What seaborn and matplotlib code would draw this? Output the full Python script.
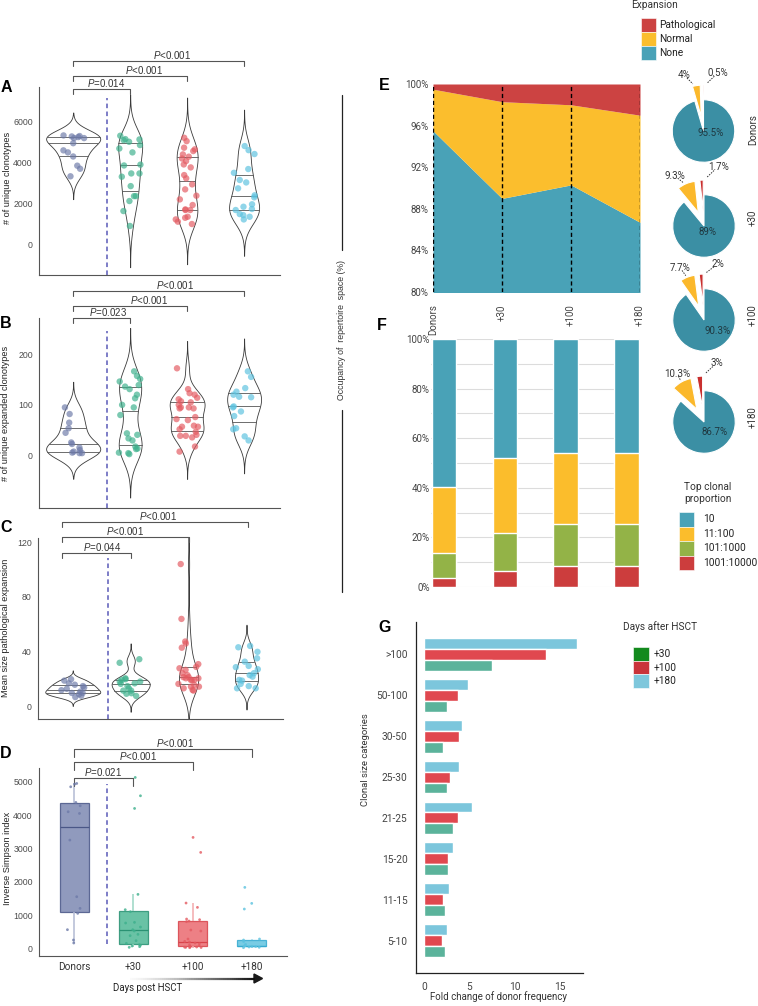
import numpy as np
import pandas as pd
import matplotlib.pyplot as plt
import seaborn as sns
from matplotlib.patches import Rectangle, Polygon
from matplotlib.lines import Line2D
from matplotlib.collections import LineCollection
from matplotlib.transforms import blended_transform_factory

sns.set_style("white")
plt.rcParams['font.family'] = ['Liberation Sans', 'DejaVu Sans']
plt.rcParams['mathtext.fontset'] = 'custom'
plt.rcParams['mathtext.it'] = 'Liberation Sans:italic'
plt.rcParams['mathtext.rm'] = 'Liberation Sans'

W, H = 758, 1006

groups = ['Donors', '+30', '+100', '+180']

# A: number of unique clonotypes
uniq_donors = [5330, 5300, 5280, 5250, 5200, 5200, 4950, 4600, 4500, 4300, 3850, 3700, 3330]
uniq_d30 = [5315, 5150, 5135, 5100, 5020, 4860, 4690, 4500, 3900, 3860, 3470, 3470,
            3310, 2850, 2360, 2360, 2120, 1630, 900]
uniq_d100 = [5215, 5050, 4730, 4650, 4565, 4400, 4290, 4200, 4075, 3910, 3765, 3390, 3230,
             2935, 2690, 2380, 2200, 1925, 1710, 1680, 1680, 1350, 1300, 1220, 1110, 995]
uniq_d180 = [4810, 4610, 4420, 3685, 3500, 3150, 3030, 2740, 2400, 2300, 1960, 1840,
             1730, 1680, 1480, 1430, 1350, 1220]

# B: number of unique expanded clonotypes
exp_donors = [95, 82, 65, 54, 45, 26, 23, 16, 11, 8, 6, 5, 5]
exp_d30 = [166, 157, 151, 146, 139, 136, 131, 120, 113, 100, 95, 80, 44, 41, 34, 30,
           18, 14, 13, 6, 5, 3]
exp_d100 = [172, 131, 123, 120, 114, 111, 107, 105, 100, 95, 95, 93, 93, 76, 72, 70,
            59, 57, 57, 52, 47, 41, 39, 39, 36, 18, 8]
exp_d180 = [166, 155, 133, 126, 120, 116, 115, 97, 95, 87, 78, 54, 52, 38, 30]

# C: mean size of pathological expansion
path_donors = [20, 19, 17, 16, 15, 14, 13, 12, 11, 10, 10, 9, 8, 7]
path_d30 = [34.6, 32, 20.7, 20, 19.5, 18.3, 18.3, 17, 16.6, 15, 13.4, 11.7, 11.7, 9.8, 9.4, 7.8]
path_d100 = [104, 64, 47.5, 46, 43, 31, 29, 28, 26.8, 24.4, 23, 21.5, 21.5, 20.7, 20.7,
             19.5, 19.5, 19.5, 16.6, 15.8, 14.6, 14.6, 13.4, 12.2, 11.7]
path_d180 = [44.3, 43.3, 40, 35.3, 32.8, 29.7, 28.8, 27.3, 24.4, 23, 21.9, 19.5, 19,
             16.6, 15, 13.4, 13.4]

# D: inverse Simpson index
simp_donors = [160, 250, 560, 1050, 1200, 1550, 3250, 4050, 4100, 4280, 4380, 4850, 4930, 4950]
simp_d30 = [30, 50, 70, 90, 110, 150, 230, 380, 420, 520, 560, 640, 760, 780, 1100, 1160,
            1620, 4200, 4580, 5130]
simp_d100 = [20, 25, 30, 35, 40, 45, 60, 80, 100, 140, 160, 190, 210, 280, 520, 550, 800,
             820, 860, 880, 1230, 1360, 2880, 3330]
simp_d180 = [20, 30, 40, 55, 60, 70, 75, 85, 120, 200, 250, 280, 1180, 1350, 1830]

# E: occupancy of repertoire space (%)
occ_none = [95.5, 89.0, 90.3, 86.7]
occ_normal = [4.0, 9.3, 7.7, 10.3]
occ_path = [0.5, 1.7, 2.0, 3.0]
expansion_labels = ['Pathological', 'Normal', 'None']

# F: top clonal proportion (%)
clonal_labels = ['10', '11:100', '101:1000', '1001:10000']
prop_10 = [59.5, 48.0, 45.8, 45.8]
prop_11_100 = [26.6, 30.1, 28.8, 28.8]
prop_101_1000 = [10.4, 15.4, 16.8, 16.8]
prop_1001_10000 = [3.5, 6.5, 8.6, 8.6]

# G: fold change of donor frequency
size_cats = ['>100', '50-100', '30-50', '25-30', '21-25', '15-20', '11-15', '5-10']
days_after = ['+30', '+100', '+180']
fold_d30 = [7.5, 2.5, 2.1, 2.5, 3.2, 2.7, 2.3, 2.3]
fold_d100 = [13.5, 3.7, 3.9, 2.9, 3.8, 2.7, 2.1, 2.0]
fold_d180 = [16.9, 4.9, 4.2, 3.85, 5.3, 3.15, 2.75, 2.5]

dot_colors = ['#6d7aa8', '#3db08c', '#e45a61', '#5bc2df']
box_fill = ['#7d89b2', '#4fb896', '#ea6a70', '#62c3e0']
box_edge = ['#4a5787', '#2a9273', '#d8434b', '#35aad0']
box_whisk = ['#b3bad3', '#9ad6c3', '#f2a9ac', '#a6dcee']
exp_colors = {'Pathological': '#cc4342', 'Normal': '#fbbe2d', 'None': '#49a2b7'}
pie_colors = ['#3b8fa4', '#fbb82b', '#c9302f']
clonal_colors = ['#49a2b7', '#fbbd2c', '#93b347', '#cc3d3d']
bar_colors = {'+30': '#5bb39b', '+100': '#e0484f', '+180': '#7cc6dc'}
legend_g_colors = ['#138a1e', '#c9343a', '#7ec7dc']
grey_txt = '#4d4d4d'
roboto = ['Roboto', 'DejaVu Sans']

fig = plt.figure(figsize=(W / 100, H / 100), dpi=100)


def fx(x):
    return x / W


def fy(y):
    return 1 - y / H


def add_ax(l, t, r, b):
    return fig.add_axes([l / W, 1 - b / H, (r - l) / W, (b - t) / H])


def long_frame(series):
    return pd.DataFrame({'group': np.repeat(groups, [len(s) for s in series]),
                         'value': np.concatenate(series).astype(float)})


def bracket(ax, x0, x1, ypx, label, tx, drop=5):
    tr = blended_transform_factory(ax.transData, fig.transFigure)
    ax.plot([x0, x0, x1, x1], [fy(ypx + drop), fy(ypx), fy(ypx), fy(ypx + drop)],
            transform=tr, color='#555555', lw=0.8, clip_on=False)
    ax.text(tx, fy(ypx - 6), label, transform=tr, ha='center', va='center',
            fontsize=7, color='#333333', clip_on=False)


def style_left(ax, yticks, ylim, xlim):
    ax.set_ylim(ylim)
    ax.set_xlim(xlim)
    ax.set_yticks(yticks)
    ax.set_yticklabels([str(t) for t in yticks], fontsize=6.3, color=grey_txt)
    ax.set_xticks(range(4))
    ax.set_xticklabels([])
    ax.set_xlabel('')
    ax.set_ylabel('')
    sns.despine(ax=ax)
    for s in ['left', 'bottom']:
        ax.spines[s].set_color('#555555')
        ax.spines[s].set_linewidth(0.8)
    ax.tick_params(axis='both', length=2.5, width=0.6, color='#888888', pad=2)


def violin_panel(ax, series, ylim, yticks, dash_top):
    df = long_frame(series)
    sns.violinplot(data=df, x='group', y='value', order=groups, color='white',
                   linecolor='#3a3a3a', linewidth=0.6, inner='quart', density_norm='area',
                   width=0.95, cut=3, bw_method='silverman', bw_adjust=0.85,
                   saturation=1, ax=ax)
    for ln in ax.lines:
        ln.set_linestyle('-')
        ln.set_linewidth(0.6)
        ln.set_color('#555555')
    sns.stripplot(data=df, x='group', y='value', order=groups, hue='group',
                  hue_order=groups, palette=dot_colors, size=4.6, alpha=0.68,
                  jitter=0.2, linewidth=0, legend=False, ax=ax)
    ax.vlines(0.6, ylim[0], dash_top, colors='#5a5ab8', linestyles=(0, (3, 2.2)),
              linewidth=1.1)
    style_left(ax, yticks, ylim, (-0.6, 3.63))


np.random.seed(7)

# ---- A
axA = add_ax(39, 87, 280, 275)
violin_panel(axA, [uniq_donors, uniq_d30, uniq_d100, uniq_d180], (-1500, 7700),
             [0, 2000, 4000, 6000], 7145)
bracket(axA, 0, 3, 61, r'$P$<0.001', 1.73)
bracket(axA, 0, 2, 76, r'$P$<0.001', 1.25)
bracket(axA, 0, 1, 89, r'$P$=0.014', 0.57)

# ---- B
axB = add_ax(39, 318, 280, 508)
violin_panel(axB, [exp_donors, exp_d30, exp_d100, exp_d180], (-103, 271),
             [0, 100, 200], 246)
bracket(axB, 0, 3, 291, r'$P$<0.001', 1.79)
bracket(axB, 0, 2, 305.7, r'$P$<0.001', 1.34)
bracket(axB, 0, 1, 317.7, r'$P$=0.023', 0.61)

# ---- C
axC = add_ax(38, 538, 283, 719)
violin_panel(axC, [path_donors, path_d30, path_d100, path_d180], (-9, 123),
             [0, 40, 80, 120], 108.5)
bracket(axC, -0.18, 3.02, 521.7, r'$P$<0.001', 1.47)
bracket(axC, -0.18, 2.0, 537, r'$P$<0.001', 0.91)
bracket(axC, -0.18, 1.0, 553, r'$P$=0.044', 0.5)

# ---- D
axD = add_ax(39, 768, 287, 956)
simp_series = [simp_donors, simp_d30, simp_d100, simp_d180]
for i, g in enumerate(groups):
    sub = pd.DataFrame({'group': g, 'value': np.array(simp_series[i], dtype=float)})
    sns.boxplot(data=sub, x='group', y='value', order=groups, color=box_fill[i],
                linecolor=box_edge[i], linewidth=0.9, width=0.5, showcaps=False,
                showfliers=False, saturation=1, boxprops=dict(alpha=0.85),
                whiskerprops=dict(color=box_whisk[i], linewidth=1.1), ax=axD)
dfD = long_frame(simp_series)
sns.stripplot(data=dfD, x='group', y='value', order=groups, hue='group', hue_order=groups,
              palette=dot_colors, size=2.0, alpha=0.8, jitter=0.15, linewidth=0,
              legend=False, ax=axD)
axD.vlines(0.56, 130, 4934, colors='#5a5ab8', linestyles=(0, (3, 2.2)), linewidth=1.1)
style_left(axD, [0, 1000, 2000, 3000, 4000, 5000], (-230, 5414), (-0.6, 3.6))
axD.set_xticklabels(groups, fontsize=7.2, color='#333333', family=roboto)
bracket(axD, 0, 3, 748.7, r'$P$<0.001', 1.7, drop=8)
bracket(axD, 0, 2, 762, r'$P$<0.001', 1.08, drop=8)
bracket(axD, 0, 1, 777.7, r'$P$=0.021', 0.48, drop=8)

fig.text(fx(148), fy(988), 'Days post HSCT', ha='center', va='center', fontsize=6.9,
         color='#222222', family=roboto)
xs = np.linspace(130, 255, 60)
segs = [[(fx(xs[i]), fy(978.5)), (fx(xs[i + 1]), fy(978.5))] for i in range(59)]
cols = [plt.cm.Greys(0.04 + 0.9 * i / 58) for i in range(59)]
fig.add_artist(LineCollection(segs, colors=cols, linewidths=1.6, transform=fig.transFigure))
fig.add_artist(Polygon([(fx(254), fy(974)), (fx(262.5), fy(978.5)), (fx(254), fy(983))],
                       closed=True, color='#1a1a1a', transform=fig.transFigure))

# y labels and panel letters on the left
for txt, x, y in [('# of unique clonotypes', 8, 178), ('# of unique expanded clonotypes', 6, 413),
                  ('Mean size pathological expansion', 6, 628), ('Inverse Simpson index', 8, 858)]:
    fig.text(fx(x), fy(y), txt, rotation=90, ha='center', va='center', fontsize=6.6,
             color='#222222')
for txt, x, y in [('A', 6, 88), ('B', 6, 324), ('C', 6, 527), ('D', 6, 753),
                  ('E', 384, 86), ('F', 382, 326), ('G', 385, 628)]:
    fig.text(fx(x), fy(y), txt, ha='center', va='center', fontsize=11.5, fontweight='bold',
             color='black')

# ---- E
axE = add_ax(433, 84, 640, 292)
xpos = np.arange(4)
axE.stackplot(xpos, occ_none, occ_normal, occ_path,
              colors=[exp_colors['None'], exp_colors['Normal'], exp_colors['Pathological']],
              linewidth=0)
for x in xpos:
    axE.axvline(x, color='black', ls=(0, (3, 2)), lw=1)
axE.set_xlim(0, 3)
axE.set_ylim(80, 100)
axE.set_yticks([80, 84, 88, 92, 96, 100])
axE.set_yticklabels([f'{t}%' for t in [80, 84, 88, 92, 96, 100]], fontsize=7,
                    color='#444444', family=roboto)
axE.set_xticks(xpos)
axE.set_xticklabels(groups, rotation=90, fontsize=7, color='#444444', family=roboto)
axE.tick_params(length=0, pad=3)
axE.tick_params(axis='x', pad=9)
for s in axE.spines.values():
    s.set_visible(False)

# pies
pie_centers = [(703.5, 131), (704, 226), (704, 320), (704, 422)]
normal_lab_xy = [(-0.63, 1.8), (-0.94, 1.61), (-0.77, 1.68), (-0.87, 1.55)]
path_lab_xy = [(0.47, 1.87), (0.45, 1.9), (0.45, 1.8), (0.42, 1.9)]
inner_lab_xy = [(0.24, -0.06), (0.1, -0.19), (0.42, -0.35), (0.35, -0.32)]
side_lab_y = [130, 218, 315, 417]
for i in range(4):
    cx, cy = pie_centers[i]
    axp = fig.add_axes([(cx - 50) / W, 1 - (cy + 50) / H, 100 / W, 100 / H])
    vals = [occ_none[i], occ_normal[i], occ_path[i]]
    wedges, _ = axp.pie(vals, colors=pie_colors, startangle=90, counterclock=False,
                        explode=[0, 0.47, 0.47], radius=1,
                        wedgeprops=dict(edgecolor='white', linewidth=0.8))
    axp.set_xlim(-1.6, 1.6)
    axp.set_ylim(-1.6, 1.6)
    axp.set_aspect('equal')
    axp.axis('off')
    for w, lab in zip(wedges[1:], [normal_lab_xy[i], path_lab_xy[i]]):
        ang = np.deg2rad((w.theta1 + w.theta2) / 2)
        sx, sy = 1.4 * np.cos(ang), 1.4 * np.sin(ang)
        lx, ly = lab
        axp.plot([lx + 0.25 * (sx - lx), lx + 0.7 * (sx - lx)],
                 [ly + 0.25 * (sy - ly), ly + 0.7 * (sy - ly)],
                 ls=(0, (1.5, 1.2)), color='#333333', lw=0.7, clip_on=False)
    axp.text(*normal_lab_xy[i], f'{occ_normal[i]:g}%', ha='center', va='center', fontsize=7,
             color='#333333', family=roboto)
    axp.text(*path_lab_xy[i], f'{occ_path[i]:g}%', ha='center', va='center', fontsize=7,
             color='#333333', family=roboto)
    axp.text(*inner_lab_xy[i], f'{occ_none[i]:g}%', ha='center', va='center', fontsize=7,
             color='#1f3840', family=roboto)
    fig.text(fx(753), fy(side_lab_y[i]), groups[i], rotation=90, ha='center', va='center',
             fontsize=7, color='#333333', family=roboto)


def legend_block(title, title_xy, labels, colors, x0, x1, y0, row_h, label_x, fs=7.3,
                 title_ha='left'):
    fig.text(fx(title_xy[0]), fy(title_xy[1]), title, ha=title_ha, va='center', fontsize=fs,
             color='#333333', family=roboto, linespacing=1.35)
    for k, (lab, c) in enumerate(zip(labels, colors)):
        top = y0 + k * row_h
        fig.add_artist(Rectangle((fx(x0), fy(top + row_h)), (x1 - x0) / W, row_h / H,
                                 facecolor=c, edgecolor='white', lw=0.4,
                                 transform=fig.transFigure))
        fig.text(fx(label_x), fy(top + row_h / 2), lab, ha='left', va='center', fontsize=fs,
                 color='#222222', family=roboto)


legend_block('Expansion', (631, 5), expansion_labels,
             [exp_colors[k] for k in expansion_labels], 641, 656, 18, 14, 659.5)

# occupancy label
fig.text(fx(342), fy(330), 'Occupancy of  repertoire  space (%)', rotation=90, ha='center',
         va='center', fontsize=6.3, color='#333333')
fig.add_artist(Line2D([fx(342), fx(342)], [fy(95), fy(250)], color='#222222', lw=0.9,
                      transform=fig.transFigure))
fig.add_artist(Line2D([fx(342), fx(342)], [fy(410), fy(592)], color='#222222', lw=0.9,
                      transform=fig.transFigure))

# ---- F
axF = add_ax(431, 339, 640, 587)
c1 = np.array(prop_1001_10000)
c2 = c1 + np.array(prop_101_1000)
c3 = c2 + np.array(prop_11_100)
c4 = c3 + np.array(prop_10)
for vals, col in zip([c4, c3, c2, c1], clonal_colors):
    sns.barplot(x=groups, y=vals, color=col, width=0.4, saturation=1, ax=axF)
axF.set_ylim(0, 100)
axF.set_xlim(-0.21, 3.22)
axF.set_yticks(range(0, 101, 20))
axF.set_yticks(range(10, 100, 20), minor=True)
axF.set_yticklabels([f'{t}%' for t in range(0, 101, 20)], fontsize=7, color='#444444',
                    family=roboto)
axF.grid(axis='y', which='both', color='#dcdcdc', lw=0.8)
axF.set_axisbelow(True)
axF.set_xticks([])
axF.tick_params(length=0, pad=1, which='both')
for s in axF.spines.values():
    s.set_visible(False)

legend_block('Top clonal\nproportion', (708, 493), clonal_labels, clonal_colors,
             679, 694, 512, 14.5, 703.5, title_ha='center')

# ---- G
axG = add_ax(416, 621.7, 583, 973.3)
dfG = pd.DataFrame({'cat': np.tile(size_cats, 3),
                    'day': np.repeat(days_after, len(size_cats)),
                    'fold': np.concatenate([fold_d30, fold_d100, fold_d180])})
sns.barplot(data=dfG, y='cat', x='fold', hue='day', hue_order=['+180', '+100', '+30'],
            order=size_cats, palette=bar_colors, orient='h', width=0.8, saturation=1,
            legend=False, ax=axG)
axG.set_xlim(-0.9, 17.6)
axG.set_ylim(7.8, -0.8)
axG.set_xticks([0, 5, 10, 15])
axG.set_xticklabels(['0', '5', '10', '15'], fontsize=7.3, color='#444444', family=roboto)
axG.set_yticklabels(size_cats, fontsize=7.3, color='#444444', family=roboto)
axG.set_xlabel('')
axG.set_ylabel('')
sns.despine(ax=axG)
for s in ['left', 'bottom']:
    axG.spines[s].set_color('#222222')
    axG.spines[s].set_linewidth(0.9)
axG.tick_params(length=3, width=0.6, color='#555555', pad=3)
fig.text(fx(499), fy(997), 'Fold change of donor frequency', ha='center', va='center',
         fontsize=7, color='#333333', family=roboto)
fig.text(fx(366), fy(760), 'Clonal size categories', rotation=90, ha='center', va='center',
         fontsize=6.8, color='#333333', family=roboto)

legend_block('Days after HSCT', (660, 627), days_after, legend_g_colors,
             633, 648.5, 647, 13.7, 654, title_ha='center')

fig.savefig('out.png', dpi=100)
